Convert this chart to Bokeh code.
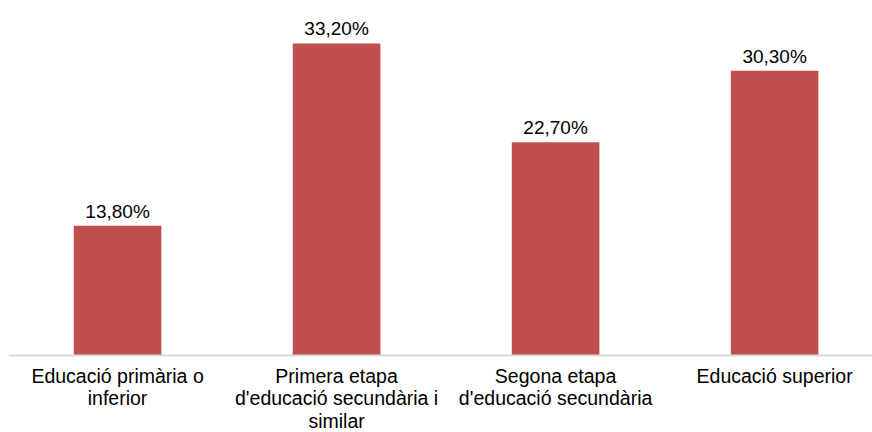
from bokeh.plotting import figure
from bokeh.models import ColumnDataSource, Range1d, Span
from bokeh.core.properties import value
from bokeh.embed import file_html
from bokeh.resources import INLINE

categories = ["Educació primària o\ninferior",
              "Primera etapa\nd'educació secundària i\nsimilar",
              "Segona etapa\nd'educació secundària",
              "Educació superior"]
values = [13.8, 33.2, 22.7, 30.3]
value_labels = ["13,80%", "33,20%", "22,70%", "30,30%"]

xs = list(range(len(categories)))
src = ColumnDataSource(dict(x=xs, top=values, lab=value_labels, cat=categories,
                            base=[0] * len(xs)))

p = figure(width=872, height=432, output_backend="svg", toolbar_location=None,
           x_range=Range1d(-0.498, 3.447), y_range=Range1d(-8.19, 37.77),
           min_border_left=8, min_border_right=0, min_border_top=0, min_border_bottom=0)
p.outline_line_color = None
p.grid.visible = False
p.xaxis.visible = False
p.yaxis.visible = False

p.vbar(x="x", top="top", width=0.40, bottom=0, source=src, color="#c0504d", line_color=None)
p.add_layout(Span(location=0, dimension="width", line_color="#d9d9d9", line_width=2))

p.text(x="x", y="top", text="lab", source=src, text_align="center", text_baseline="bottom",
       y_offset=-4, text_font=value("Liberation Sans"), text_font_size="19px", text_color="#000000")
p.text(x="x", y="base", text="cat", source=src, text_align="center", text_baseline="top",
       y_offset=9, text_line_height=1.03, text_font=value("Liberation Sans"),
       text_font_size="19.5px", text_color="#000000")

open("out.html", "w").write(file_html(p, INLINE))
